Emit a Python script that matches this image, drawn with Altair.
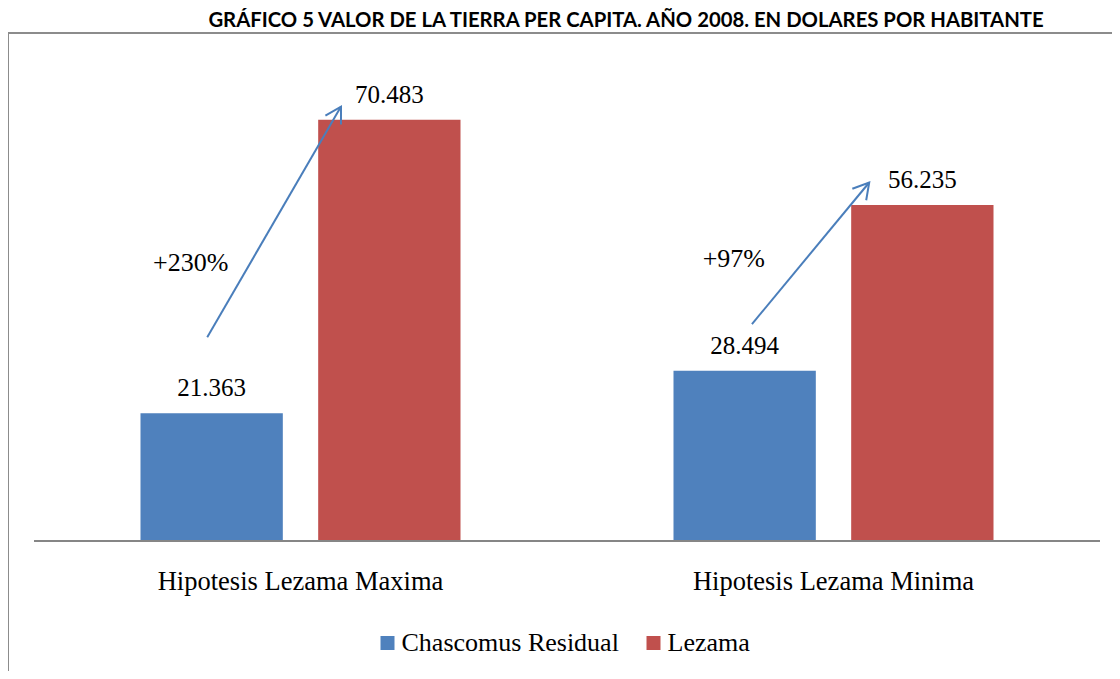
import math
import altair as alt
import pandas as pd

# ---- data ----
categories = ["Hipotesis Lezama Maxima", "Hipotesis Lezama Minima"]
series_names = ["Chascomus Residual", "Lezama"]
chascomus = [21363, 28494]
lezama = [70483, 56235]
colors = ["#4F81BD", "#C0504D"]

# annotation arrows, in category units (x) and dollars (y)
arrow_x0 = [-0.175, 0.847]
arrow_y0 = [34100, 36300]
arrow_x1 = [0.076, 1.067]
arrow_y1 = [72700, 60000]
pct_x = [-0.206, 0.813]
pct_y = [45200, 45800]

title_text = "GRÁFICO 5 VALOR DE LA TIERRA PER CAPITA. AÑO 2008. EN DOLARES POR HABITANTE"

# ---- tables ----
rows = []
for i, c in enumerate(categories):
    for s, vals in zip(series_names, [chascomus, lezama]):
        v = vals[i]
        rows.append({"category": c, "series": s, "value": v,
                     "label": f"{v:,}".replace(",", ".")})
bars_df = pd.DataFrame(rows)

W, H = 1120, 660
Y0, Y1 = 508, 30
YMAX = 80000
XL, XR = 26, 1092
px_per_cat = (XR - XL) / 2.0
px_per_val = (Y0 - Y1) / YMAX

arr_rows = []
for i in range(2):
    dx = (arrow_x1[i] - arrow_x0[i]) * px_per_cat
    dy = (arrow_y1[i] - arrow_y0[i]) * px_per_val
    ang = math.degrees(math.atan2(dx, dy))
    pct = round((lezama[i] / chascomus[i] - 1) * 100)
    arr_rows.append({"x0": arrow_x0[i], "y0": arrow_y0[i], "x1": arrow_x1[i],
                     "y1": arrow_y1[i], "angle": ang,
                     "px": pct_x[i], "py": pct_y[i], "pct": f"+{pct}%"})
arr_df = pd.DataFrame(arr_rows)

serif = "Liberation Serif"
yscale = alt.Scale(domain=[0, YMAX], range=[Y0, Y1])

xband = alt.X("category:N", sort=categories,
              scale=alt.Scale(range=[XL, XR], paddingInner=0.3996, paddingOuter=0.1998),
              axis=alt.Axis(title=None, orient="bottom", offset=Y0 - H,
                            domain=False, ticks=False, tickSize=0, grid=False,
                            labelFont=serif, labelFontSize=26.5, labelColor="black",
                            labelAngle=0, labelBaseline="alphabetic",
                            labelPadding=48, labelLimit=0))
xoff = alt.XOffset("series:N", sort=series_names,
                   scale=alt.Scale(paddingInner=0.199, paddingOuter=0))

bars = alt.Chart(bars_df).mark_bar().encode(
    x=xband,
    xOffset=xoff,
    y=alt.Y("value:Q", scale=yscale, axis=None, stack=None),
    color=alt.Color("series:N", sort=series_names,
                    scale=alt.Scale(domain=series_names, range=colors),
                    legend=alt.Legend(orient="none", legendX=366.5, legendY=597,
                                      direction="horizontal", title=None,
                                      symbolType="square", symbolSize=196,
                                      symbolStrokeWidth=0, symbolOpacity=1,
                                      labelFont=serif, labelFontSize=26,
                                      labelColor="black", labelOffset=1,
                                      columnPadding=21, padding=0, labelLimit=0)),
)

values = alt.Chart(bars_df).mark_text(
    font=serif, fontSize=25, color="black", baseline="alphabetic", dy=-17
).encode(
    x=xband,
    xOffset=xoff,
    y=alt.Y("value:Q", scale=yscale, axis=None),
    text="label:N",
)

xa = alt.Scale(domain=[-0.5, 1.5], range=[XL, XR])
arrow_color = "#4A7EBB"

baseline = alt.Chart(pd.DataFrame({"series": ["base"]})).mark_rule(
    color="#868686", strokeWidth=2
).encode(
    x=alt.X(datum=-0.5, type="quantitative", scale=xa, axis=None),
    x2=alt.X2(datum=1.5),
    y=alt.Y(datum=0, type="quantitative", scale=yscale, axis=None),
)

arrows = alt.Chart(arr_df).mark_rule(color=arrow_color, strokeWidth=2).encode(
    x=alt.X("x0:Q", scale=xa, axis=None),
    x2="x1:Q",
    y=alt.Y("y0:Q", scale=yscale, axis=None),
    y2="y1:Q",
)

heads = alt.Chart(arr_df).mark_point(
    shape="M -0.5 0.866 L 0 0 L 0.5 0.866", filled=False,
    strokeWidth=2, size=1296, color=arrow_color, opacity=1
).encode(
    x=alt.X("x1:Q", scale=xa, axis=None),
    y=alt.Y("y1:Q", scale=yscale, axis=None),
    angle=alt.Angle("angle:Q", scale=None),
)

pcts = alt.Chart(arr_df).mark_text(
    font=serif, fontSize=26, color="black", baseline="alphabetic", align="center"
).encode(
    x=alt.X("px:Q", scale=xa, axis=None),
    y=alt.Y("py:Q", scale=yscale, axis=None),
    text="pct:N",
)

chart = alt.layer(
    alt.layer(bars, values),
    alt.layer(baseline, arrows, heads, pcts),
).resolve_scale(x="independent").properties(
    width=W, height=H,
    autosize=alt.AutoSizeParams(type="none"),
    padding={"left": 0, "top": 25, "right": -16, "bottom": -22},
    title=alt.Title(title_text, font="Lato", fontSize=20.3, fontWeight="bold",
                    color="black", anchor="middle", dx=58, dy=20, offset=6,
                    baseline="alphabetic", frame="group"),
).configure_view(stroke="#8C8C8C", strokeWidth=2)

chart.save("out.html", embed_options={"renderer": "svg", "actions": False})
